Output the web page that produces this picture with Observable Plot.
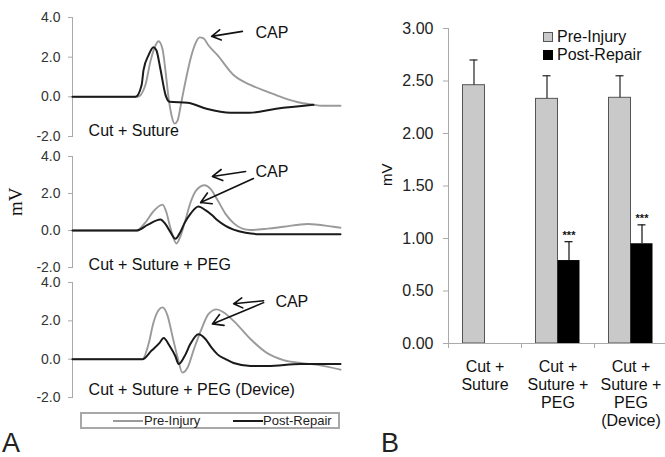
<!DOCTYPE html>
<html><head><meta charset="utf-8">
<script src="https://cdn.jsdelivr.net/npm/d3@7"></script>
<script src="https://cdn.jsdelivr.net/npm/@observablehq/plot@0.6"></script>
<style>
body{margin:0;background:#fff;overflow:hidden}
#root{position:relative;width:665px;height:457px;overflow:hidden;font-family:"Liberation Sans",Arial,sans-serif;background:#fff;color:#111}
#root svg{position:absolute;overflow:visible}
.abs{position:absolute;white-space:nowrap}
</style></head><body><div id="root"></div>
<script>
// ---------- Panel A: CAP traces, [time (ms), mV] ----------
const sutPre = [[0,0],[1.2,0],[2.43,0],[2.72,0.6],[2.91,1.8],[3.10,2.6],[3.21,2.8],[3.36,2.4],[3.47,1.3],[3.58,0.0],[3.69,-0.9],[3.81,-1.35],[3.92,-1.2],[4.03,-0.5],[4.10,0],[4.25,1.0],[4.40,1.9],[4.59,2.7],[4.74,3.0],[4.89,2.95],[5.07,2.6],[5.41,2.1],[6.01,1.1],[6.64,0.6],[7.28,0.25],[7.87,-0.05],[8.51,-0.3],[8.99,-0.4],[9.3,-0.45],[10,-0.45]];
const sutPost = [[0,0],[1.2,0],[2.35,0],[2.58,0.6],[2.65,1.35],[2.84,2.1],[3.02,2.5],[3.13,2.35],[3.28,1.4],[3.47,0.1],[3.62,-0.25],[4.29,-0.3],[5.0,-0.6],[5.9,-0.8],[6.6,-0.8],[7.6,-0.6],[8.99,-0.4]];
const pegPre = [[0,0],[1.2,0],[2.39,0],[2.7,0.4],[3.0,1.0],[3.36,1.4],[3.5,1.0],[3.66,0.1],[3.88,-0.7],[4.03,-0.3],[4.22,0.6],[4.40,1.5],[4.63,2.2],[4.93,2.45],[5.15,2.25],[5.41,1.65],[5.71,0.9],[6.01,0.4],[6.34,0.1],[6.64,0.03],[7.28,0.1],[7.87,0.2],[8.77,0.35],[9.74,0.2],[10,0.15]];
const pegPost = [[0,0],[1.2,0],[2.39,0],[2.8,0.3],[3.28,0.6],[3.47,0.35],[3.66,-0.1],[3.84,-0.45],[4.0,-0.15],[4.18,0.4],[4.40,0.9],[4.7,1.3],[4.96,1.1],[5.19,0.85],[5.41,0.55],[5.71,0.25],[6.01,0.05],[6.46,-0.12],[7.01,-0.2],[10,-0.2]];
const devPre = [[0,0],[1.3,0],[2.61,0],[2.84,0.8],[3.02,1.9],[3.21,2.55],[3.36,2.7],[3.54,2.3],[3.73,1.2],[3.92,0.1],[4.1,-0.7],[4.29,-0.45],[4.55,0.6],[4.85,1.7],[5.07,2.35],[5.38,2.6],[5.63,2.45],[6.01,2.0],[6.64,1.05],[7.28,0.3],[7.87,-0.05],[8.51,-0.2],[9.14,-0.3],[10,-0.55]];
const devPost = [[0,0],[1.3,0],[2.61,0],[2.95,0.45],[3.25,0.85],[3.40,1.1],[3.62,0.7],[3.84,0.15],[3.96,-0.25],[4.18,0.15],[4.40,0.8],[4.70,1.3],[4.96,1.05],[5.19,0.6],[5.41,0.25],[5.71,0],[6.01,-0.2],[6.64,-0.35],[7.28,-0.35],[8.51,-0.25],[10,-0.25]];
const traceTicks = [-2, 0, 2, 4];
const panelTitles = ["Cut + Suture", "Cut + Suture + PEG", "Cut + Suture + PEG (Device)"];
// annotation anchors [x, y] and arrows [x1, y1, x2, y2] in data units
const titlePos = [[0.6, -1.7], [0.6, -1.84], [0.6, -1.58]];
const capPos = [[6.83, 3.2], [6.83, 3.19], [7.57, 3.0]];
const capArrows = [
  [[6.34, 3.3, 5.19, 3.05]],
  [[6.46, 3.19, 5.22, 2.92], [6.75, 2.81, 4.78, 1.51]],
  [[7.13, 3.05, 6.01, 2.89], [7.13, 2.95, 5.22, 1.84]]
];

// ---------- Panel B: bar chart ----------
const groups = ["Cut +\nSuture", "Cut +\nSuture +\nPEG", "Cut +\nSuture +\nPEG\n(Device)"];
const preInjury = [2.46, 2.33, 2.34];
const preUpper = [2.70, 2.55, 2.55];
const postRepair = [null, 0.79, 0.95];
const postUpper = [null, 0.97, 1.13];
const barTicks = [0, 0.5, 1, 1.5, 2, 2.5, 3];

const FONT = '"Liberation Sans", Arial, sans-serif';
const root = document.getElementById("root");
function place(el, left, top) { el.style.left = left + "px"; el.style.top = top + "px"; root.appendChild(el); }

function tracePlot(i, pre, post, top, height, marginTop, withMV) {
  const p = Plot.plot({
    width: 340, height, marginTop, marginBottom: 4, marginLeft: 72, marginRight: 0,
    x: {domain: [0, 10], axis: null},
    y: {domain: [-2, 4], axis: null},
    style: {fontFamily: FONT, background: "transparent", overflow: "visible"},
    marks: [
      Plot.frame({anchor: "left", stroke: "#aaa"}),
      Plot.axisY({ticks: traceTicks, tickFormat: d => d.toFixed(1), tickSize: 4, tickPadding: 8, stroke: "#aaa", fill: "#333", fontSize: 14, label: null}),
      Plot.line(pre, {x: d => d[0], y: d => d[1], stroke: "#9a9a9a", strokeWidth: 1.9, curve: "monotone-x"}),
      Plot.line(post, {x: d => d[0], y: d => d[1], stroke: "#1a1a1a", strokeWidth: 2, curve: "monotone-x"}),
      Plot.text([panelTitles[i]], {x: titlePos[i][0], y: titlePos[i][1], textAnchor: "start", fontSize: 16, fill: "#111"}),
      Plot.text(["CAP"], {x: capPos[i][0], y: capPos[i][1], textAnchor: "start", fontSize: 16, fill: "#111"}),
      Plot.arrow(capArrows[i], {x1: d => d[0], y1: d => d[1], x2: d => d[2], y2: d => d[3], stroke: "#111", strokeWidth: 1.6, headLength: 11}),
      withMV ? Plot.text(["mV"], {frameAnchor: "left", dx: -57, dy: 4, rotate: -90, fontFamily: '"Liberation Serif", serif', fontSize: 19, fill: "#111"}) : null
    ]
  });
  place(p, 0, top);
}
tracePlot(0, sutPre, sutPost, 0, 140, 17, false);
tracePlot(1, pegPre, pegPost, 150, 121, 6, true);
tracePlot(2, devPre, devPost, 276, 125, 6, false);

// legend A
const legA = document.createElement("div");
legA.className = "abs";
legA.style.cssText += "width:256px;height:13px;border:2px solid #a8a8a8;font-size:13px;line-height:13px;color:#222;";
legA.innerHTML = '<span class="abs" style="left:31px;top:6px;width:30px;border-top:2px solid #9a9a9a"></span><span class="abs" style="left:62px;top:0">Pre-Injury</span>' +
  '<span class="abs" style="left:151px;top:6px;width:30px;border-top:2px solid #1a1a1a"></span><span class="abs" style="left:181px;top:0">Post-Repair</span>';
place(legA, 80, 412);

// Panel B
const bars = groups.map((g, k) => ({g, pre: preInjury[k], preU: preUpper[k], post: postRepair[k], postU: postUpper[k]}));
const postBars = bars.filter(d => d.post != null);
const half = 219 / 6;
const bp = Plot.plot({
  width: 287, height: 443, marginLeft: 68, marginRight: 0, marginTop: 28, marginBottom: 100,
  x: {domain: groups, padding: 0, axis: null},
  y: {domain: [0, 3], axis: null},
  style: {fontFamily: FONT, background: "transparent", overflow: "visible"},
  marks: [
    Plot.barY(bars, {x: "g", y: "pre", fill: "#c9c9c9", stroke: "#555", strokeWidth: 1, insetLeft: half - 22, insetRight: half}),
    Plot.barY(postBars, {x: "g", y: "post", fill: "#000", insetLeft: half, insetRight: half - 22}),
    Plot.ruleX(bars, {x: "g", y1: "pre", y2: "preU", dx: -11, stroke: "#333", strokeWidth: 1.3}),
    Plot.tickY(bars, {x: "g", y: "preU", stroke: "#333", strokeWidth: 1.3, insetLeft: half - 15, insetRight: half + 7}),
    Plot.ruleX(postBars, {x: "g", y1: "post", y2: "postU", dx: 11, stroke: "#222", strokeWidth: 1.3}),
    Plot.tickY(postBars, {x: "g", y: "postU", stroke: "#222", strokeWidth: 1.3, insetLeft: half + 7, insetRight: half - 15}),
    Plot.text(postBars, {x: "g", y: "postU", text: () => "***", dx: 11, dy: -6, fontSize: 11, fontWeight: "bold", fill: "#111"}),
    Plot.frame({anchor: "left", stroke: "#aaa"}),
    Plot.frame({anchor: "bottom", stroke: "#aaa"}),
    Plot.axisY({ticks: barTicks, tickFormat: d => d.toFixed(2), tickSize: 5, tickPadding: 10, stroke: "#aaa", fill: "#222", fontSize: 16, label: null}),
    Plot.axisX({tickSize: 5, tickFormat: () => "", dx: -half, stroke: "#aaa", label: null}),
    Plot.text(groups, {x: d => d, frameAnchor: "bottom", dy: 16, lineAnchor: "top", lineHeight: 1.12, fontSize: 16, fill: "#111"}),
    Plot.text(["mV"], {frameAnchor: "left", dx: -61, rotate: -90, fontSize: 15, fill: "#111"})
  ]
});
place(bp, 380, 0);

// legend B
const legB = document.createElement("div");
legB.className = "abs";
legB.style.cssText += "font-size:16px;line-height:18px;color:#111;";
legB.innerHTML = '<div style="position:relative;padding-left:14px"><span class="abs" style="left:0;top:4px;width:8px;height:8px;background:#c9c9c9;border:1px solid #555"></span>Pre-Injury</div>' +
  '<div style="position:relative;padding-left:14px"><span class="abs" style="left:0;top:4px;width:10px;height:10px;background:#000"></span>Post-Repair</div>';
place(legB, 543, 28);

// panel letters
for (const [t, x] of [["A", 2], ["B", 381]]) {
  const d = document.createElement("div");
  d.className = "abs";
  d.style.cssText += "font-size:27px;line-height:27px;color:#222;";
  d.textContent = t;
  place(d, x, 430);
}
</script></body></html>
